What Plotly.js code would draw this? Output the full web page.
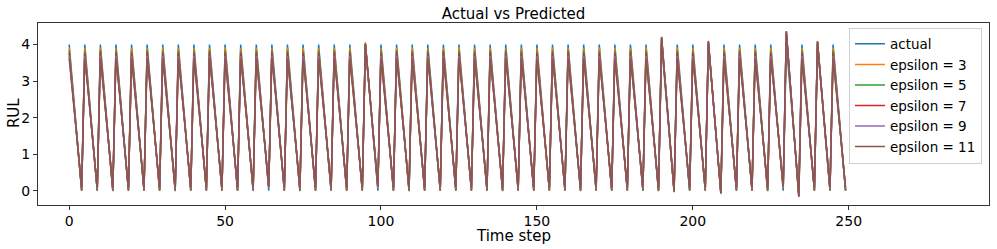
<!DOCTYPE html>
<html>
<head>
<meta charset="utf-8">
<script src="https://cdn.plot.ly/plotly-3.0.1.min.js"></script>
<style>html,body{margin:0;padding:0;background:#fff;}#chart{width:997px;height:249px;}</style>
</head>
<body>
<div id="chart"></div>
<script>
// Series names
const seriesNames = ["actual", "epsilon = 3", "epsilon = 5", "epsilon = 7", "epsilon = 9", "epsilon = 11"];

// Actual RUL (time steps 0..249)
const actual = [
4,3,2,1,0,4,3,2,1,0,4,3,2,1,0,4,3,2,1,0,4,3,2,1,0,
4,3,2,1,0,4,3,2,1,0,4,3,2,1,0,4,3,2,1,0,4,3,2,1,0,
4,3,2,1,0,4,3,2,1,0,4,3,2,1,0,4,3,2,1,0,4,3,2,1,0,
4,3,2,1,0,4,3,2,1,0,4,3,2,1,0,4,3,2,1,0,4,3,2,1,0,
4,3,2,1,0,4,3,2,1,0,4,3,2,1,0,4,3,2,1,0,4,3,2,1,0,
4,3,2,1,0,4,3,2,1,0,4,3,2,1,0,4,3,2,1,0,4,3,2,1,0,
4,3,2,1,0,4,3,2,1,0,4,3,2,1,0,4,3,2,1,0,4,3,2,1,0,
4,3,2,1,0,4,3,2,1,0,4,3,2,1,0,4,3,2,1,0,4,3,2,1,0,
4,3,2,1,0,4,3,2,1,0,4,3,2,1,0,4,3,2,1,0,4,3,2,1,0,
4,3,2,1,0,4,3,2,1,0,4,3,2,1,0,4,3,2,1,0,4,3,2,1,0
];

const eps3 = [
3.91,2.95,1.97,0.98,0.01, 3.90,2.94,1.96,0.98,0.02, 3.92,2.95,1.97,0.99,0.01, 3.89,2.93,1.96,0.98,0.02, 3.91,2.95,1.97,0.98,0.01,
3.90,2.94,1.97,0.99,0.01, 3.92,2.95,1.96,0.98,0.02, 3.91,2.94,1.97,0.98,0.01, 3.90,2.95,1.97,0.99,0.02, 3.91,2.94,1.96,0.98,0.01,
3.92,2.95,1.97,0.98,0.01, 3.90,2.94,1.97,0.99,0.02, 3.91,2.96,1.99,1.03,0.09, 3.90,2.94,1.96,0.98,0.01, 3.92,2.95,1.97,0.98,0.02,
3.91,2.94,1.97,0.99,0.01, 3.90,2.95,1.96,0.98,0.02, 3.91,2.94,1.97,0.98,0.01, 3.92,2.95,1.97,0.99,0.02, 4.06,3.05,2.05,1.06,0.08,
3.90,2.95,1.97,0.98,0.01, 3.91,2.94,1.96,0.98,0.02, 3.92,2.95,1.97,0.99,0.01, 3.90,2.94,1.97,0.98,0.01, 3.91,2.95,1.96,0.99,0.02,
3.92,2.94,1.97,0.98,0.01, 3.90,2.95,1.97,0.99,0.02, 3.91,2.94,1.96,0.98,0.01, 3.89,2.95,1.97,0.98,0.02, 3.91,2.94,1.97,0.99,0.01,
3.90,2.95,1.96,0.98,0.02, 3.92,2.94,1.97,0.98,0.01, 3.91,2.95,1.97,0.99,0.02, 3.90,2.94,1.96,0.98,0.01, 3.92,2.95,1.97,0.98,0.02,
3.91,2.94,1.97,0.99,0.01, 3.90,2.95,1.96,0.98,0.02, 3.92,2.95,1.97,0.98,0.01, 4.16,3.12,2.06,1.01,-0.02, 3.91,2.94,1.97,0.99,0.02,
3.90,2.95,1.97,0.98,0.01, 4.05,3.02,2.00,0.96,-0.05, 3.91,2.94,1.96,0.98,0.02, 3.92,2.95,1.97,0.99,0.01, 3.90,2.94,1.97,0.98,0.02,
3.91,2.96,1.99,1.03,0.08, 4.30,3.22,2.10,0.98,-0.12, 3.90,2.94,1.96,0.98,0.01, 4.05,3.04,2.03,1.00,0.02, 3.91,2.95,1.97,0.98,0.01
];

const eps5 = [
3.84,2.91,1.95,0.97,0.00, 3.83,2.90,1.94,0.97,0.00, 3.85,2.91,1.95,0.98,-0.01, 3.84,2.90,1.95,0.97,0.00, 3.83,2.91,1.94,0.97,0.00,
3.85,2.91,1.95,0.98,0.00, 3.84,2.90,1.95,0.97,-0.01, 3.83,2.91,1.94,0.97,0.00, 3.84,2.91,1.95,0.98,0.00, 3.85,2.90,1.95,0.97,0.00,
3.84,2.91,1.95,0.97,0.00, 3.83,2.90,1.94,0.98,0.00, 3.84,2.92,1.97,1.02,0.10, 3.85,2.91,1.95,0.97,0.00, 3.84,2.90,1.95,0.97,-0.01,
3.83,2.91,1.94,0.97,0.00, 3.84,2.91,1.95,0.98,0.00, 3.85,2.90,1.95,0.97,0.00, 3.84,2.91,1.94,0.97,0.00, 4.02,3.03,2.04,1.06,0.10,
3.84,2.90,1.95,0.97,0.00, 3.85,2.91,1.95,0.98,-0.01, 3.83,2.91,1.94,0.97,0.00, 3.84,2.90,1.95,0.97,0.00, 3.85,2.91,1.95,0.98,0.00,
3.84,2.91,1.94,0.97,0.00, 3.83,2.90,1.95,0.97,0.00, 3.84,2.91,1.95,0.98,-0.01, 3.85,2.91,1.94,0.97,0.00, 3.84,2.90,1.95,0.97,0.00,
3.83,2.91,1.95,0.98,0.00, 3.84,2.91,1.94,0.97,0.00, 3.85,2.90,1.95,0.97,-0.01, 3.84,2.91,1.95,0.98,0.00, 3.83,2.91,1.94,0.97,0.00,
3.84,2.90,1.95,0.97,0.00, 3.85,2.91,1.95,0.98,0.00, 3.84,2.91,1.94,0.97,-0.01, 4.18,3.12,2.05,0.99,-0.04, 3.84,2.90,1.95,0.97,0.00,
3.83,2.91,1.95,0.98,0.00, 4.07,3.03,1.99,0.95,-0.06, 3.84,2.91,1.94,0.97,0.00, 3.85,2.90,1.95,0.97,0.00, 3.84,2.91,1.95,0.98,-0.01,
3.83,2.92,1.97,1.02,0.10, 4.33,3.23,2.09,0.96,-0.14, 3.84,2.91,1.95,0.97,0.00, 4.07,3.05,2.03,1.00,0.01, 3.84,2.90,1.95,0.97,0.00
];

const eps7 = [
3.77,2.88,1.94,0.98,0.03, 3.76,2.87,1.93,0.98,0.03, 3.78,2.88,1.94,0.99,0.02, 3.77,2.87,1.94,0.98,0.03, 3.76,2.88,1.93,0.98,0.03,
3.78,2.88,1.94,0.99,0.03, 3.77,2.87,1.94,0.98,0.02, 3.76,2.88,1.93,0.98,0.03, 3.77,2.88,1.94,0.99,0.03, 3.78,2.87,1.94,0.98,0.03,
3.77,2.88,1.94,0.98,0.03, 3.76,2.87,1.93,0.99,0.03, 3.77,2.89,1.96,1.03,0.11, 3.78,2.88,1.94,0.98,0.03, 3.77,2.87,1.94,0.98,0.02,
3.76,2.88,1.93,0.98,0.03, 3.77,2.88,1.94,0.99,0.03, 3.78,2.87,1.94,0.98,0.03, 3.77,2.88,1.93,0.98,0.03, 4.00,3.02,2.04,1.07,0.11,
3.77,2.87,1.94,0.98,0.03, 3.78,2.88,1.94,0.99,0.02, 3.76,2.88,1.93,0.98,0.03, 3.77,2.87,1.94,0.98,0.03, 3.78,2.88,1.94,0.99,0.03,
3.77,2.88,1.93,0.98,0.03, 3.76,2.87,1.94,0.98,0.03, 3.77,2.88,1.94,0.99,0.02, 3.78,2.88,1.93,0.98,0.03, 3.77,2.87,1.94,0.98,0.03,
3.76,2.88,1.94,0.99,0.03, 3.77,2.88,1.93,0.98,0.03, 3.78,2.87,1.94,0.98,0.02, 3.77,2.88,1.94,0.99,0.03, 3.76,2.88,1.93,0.98,0.03,
3.77,2.87,1.94,0.98,0.03, 3.78,2.88,1.94,0.99,0.03, 3.77,2.88,1.93,0.98,0.02, 4.19,3.12,2.05,0.99,-0.02, 3.77,2.87,1.94,0.98,0.03,
3.76,2.88,1.94,0.99,0.03, 4.08,3.03,1.99,0.95,-0.07, 3.77,2.88,1.93,0.98,0.03, 3.78,2.87,1.94,0.98,0.03, 3.77,2.88,1.94,0.99,0.02,
3.76,2.89,1.96,1.03,0.11, 4.35,3.23,2.09,0.96,-0.15, 3.77,2.88,1.94,0.98,0.03, 4.08,3.05,2.03,1.00,0.03, 3.77,2.87,1.94,0.98,0.03
];

const eps9 = [
3.69,2.84,1.92,0.99,0.05, 3.68,2.83,1.91,0.99,0.05, 3.70,2.84,1.92,1.00,0.04, 3.69,2.83,1.92,0.99,0.05, 3.68,2.84,1.91,0.99,0.05,
3.70,2.84,1.92,1.00,0.05, 3.69,2.83,1.92,0.99,0.04, 3.68,2.84,1.91,0.99,0.05, 3.69,2.84,1.92,1.00,0.05, 3.70,2.83,1.92,0.99,0.05,
3.69,2.84,1.92,0.99,0.05, 3.68,2.83,1.91,1.00,0.05, 3.69,2.85,1.95,1.04,0.12, 3.70,2.84,1.92,0.99,0.05, 3.69,2.83,1.92,0.99,0.04,
3.68,2.84,1.91,0.99,0.05, 3.69,2.84,1.92,1.00,0.05, 3.70,2.83,1.92,0.99,0.05, 3.69,2.84,1.91,0.99,0.05, 4.01,3.02,2.04,1.07,0.12,
3.69,2.83,1.92,0.99,0.05, 3.70,2.84,1.92,1.00,0.04, 3.68,2.84,1.91,0.99,0.05, 3.69,2.83,1.92,0.99,0.05, 3.70,2.84,1.92,1.00,0.05,
3.69,2.84,1.91,0.99,0.05, 3.68,2.83,1.92,0.99,0.05, 3.69,2.84,1.92,1.00,0.04, 3.70,2.84,1.91,0.99,0.05, 3.69,2.83,1.92,0.99,0.05,
3.68,2.84,1.92,1.00,0.05, 3.69,2.84,1.91,0.99,0.05, 3.70,2.83,1.92,0.99,0.04, 3.69,2.84,1.92,1.00,0.05, 3.68,2.84,1.91,0.99,0.05,
3.69,2.83,1.92,0.99,0.05, 3.70,2.84,1.92,1.00,0.05, 3.69,2.84,1.91,0.99,0.04, 4.20,3.13,2.05,0.99,-0.01, 3.69,2.83,1.92,0.99,0.05,
3.68,2.84,1.92,1.00,0.05, 4.09,3.03,1.99,0.95,-0.07, 3.69,2.84,1.91,0.99,0.05, 3.70,2.83,1.92,0.99,0.05, 3.69,2.84,1.92,1.00,0.04,
3.68,2.85,1.95,1.04,0.12, 4.36,3.24,2.09,0.96,-0.16, 3.69,2.84,1.92,0.99,0.05, 4.08,3.05,2.03,1.01,0.05, 3.69,2.83,1.92,0.99,0.05
];

const eps11 = [
3.62,2.80,1.90,1.00,0.09, 3.61,2.79,1.89,1.00,0.09, 3.63,2.80,1.90,1.01,0.08, 3.62,2.79,1.90,1.00,0.09, 3.61,2.80,1.89,1.00,0.09,
3.63,2.80,1.90,1.01,0.09, 3.62,2.79,1.90,1.00,0.08, 3.61,2.80,1.89,1.00,0.09, 3.62,2.80,1.90,1.01,0.09, 3.63,2.79,1.90,1.00,0.09,
3.62,2.80,1.90,1.00,0.09, 3.61,2.79,1.89,1.01,0.09, 3.62,2.81,1.93,1.05,0.13, 3.63,2.80,1.90,1.00,0.09, 3.62,2.79,1.90,1.00,0.08,
3.61,2.80,1.89,1.00,0.09, 3.62,2.80,1.90,1.01,0.09, 3.63,2.79,1.90,1.00,0.09, 3.62,2.80,1.89,1.00,0.09, 4.03,3.03,2.05,1.08,0.13,
3.62,2.79,1.90,1.00,0.09, 3.63,2.80,1.90,1.01,0.08, 3.61,2.80,1.89,1.00,0.09, 3.62,2.79,1.90,1.00,0.09, 3.63,2.80,1.90,1.01,0.09,
3.62,2.80,1.89,1.00,0.09, 3.61,2.79,1.90,1.00,0.09, 3.62,2.80,1.90,1.01,0.08, 3.63,2.80,1.89,1.00,0.09, 3.62,2.79,1.90,1.00,0.09,
3.61,2.80,1.90,1.01,0.09, 3.62,2.80,1.89,1.00,0.09, 3.63,2.79,1.90,1.00,0.08, 3.62,2.80,1.90,1.01,0.09, 3.61,2.80,1.89,1.00,0.09,
3.62,2.79,1.90,1.00,0.09, 3.63,2.80,1.90,1.01,0.09, 3.62,2.80,1.89,1.00,0.08, 4.21,3.14,2.06,1.00,0.00, 3.62,2.79,1.90,1.00,0.09,
3.61,2.80,1.90,1.01,0.09, 4.10,3.04,1.99,0.95,-0.08, 3.62,2.80,1.89,1.00,0.09, 3.63,2.79,1.90,1.00,0.09, 3.62,2.80,1.90,1.01,0.08,
3.61,2.81,1.93,1.05,0.13, 4.37,3.25,2.10,0.96,-0.17, 3.62,2.80,1.90,1.00,0.09, 4.09,3.06,2.04,1.02,0.09, 3.62,2.79,1.90,1.00,0.09
];

// Axis tick labels and titles
const xTicks = [0, 50, 100, 150, 200, 250];
const yTicks = [0, 1, 2, 3, 4];
const xTitle = "Time step";
const yTitle = "RUL";
const chartTitle = "Actual vs Predicted";

const colors = ["#1f77b4", "#ff7f0e", "#2ca02c", "#d62728", "#9467bd", "#8c564b"];
const allSeries = [actual, eps3, eps5, eps7, eps9, eps11];

const traces = allSeries.map((ys, i) => ({
  type: "scatter",
  mode: "lines",
  y: ys,
  name: seriesNames[i],
  line: {color: colors[i], width: 1.5},
  hoverinfo: "skip"
}));

const FONT = "DejaVu Sans, sans-serif";
const axisCommon = {
  showgrid: false,
  zeroline: false,
  showline: true,
  mirror: true,
  linecolor: "#333",
  linewidth: 1,
  ticks: "outside",
  ticklen: 4,
  tickwidth: 1,
  tickcolor: "#333",
  tickfont: {family: FONT, size: 14, color: "#000"}
};

const layout = {
  width: 997,
  height: 249,
  margin: {l: 38, r: 8, t: 23, b: 44, pad: 0},
  paper_bgcolor: "#fff",
  plot_bgcolor: "#fff",
  font: {family: FONT, color: "#000"},
  title: {
    text: chartTitle,
    font: {family: FONT, size: 15, color: "#000"},
    x: 0.5, xref: "paper", xanchor: "center",
    y: 1 - 13.5 / 249, yref: "container", yanchor: "middle"
  },
  xaxis: Object.assign({}, axisCommon, {
    range: [-10, 295],
    tickvals: xTicks,
    ticktext: xTicks.map(String),
    ticklabelstandoff: -1
  }),
  yaxis: Object.assign({}, axisCommon, {
    range: [-0.39, 4.59],
    tickvals: yTicks,
    ticktext: yTicks.map(String)
  }),
  annotations: [
    {text: xTitle, xref: "paper", yref: "paper", x: 0.5, y: -31 / 182,
     xanchor: "center", yanchor: "middle", showarrow: false,
     font: {family: FONT, size: 15, color: "#000"}},
    {text: yTitle, xref: "paper", yref: "paper", x: -24 / 951, y: 0.505,
     xanchor: "center", yanchor: "middle", showarrow: false, textangle: -90,
     font: {family: FONT, size: 15, color: "#000"}}
  ],
  showlegend: true,
  legend: {
    x: 0.9926, xanchor: "right",
    y: 0.975, yanchor: "top",
    bgcolor: "rgba(255,255,255,0.8)",
    bordercolor: "#d0d0d0",
    borderwidth: 1,
    font: {family: FONT, size: 13.5, color: "#000"},
    tracegroupgap: 0
  }
};

Plotly.newPlot("chart", traces, layout, {displayModeBar: false, staticPlot: true});
</script>
</body>
</html>
